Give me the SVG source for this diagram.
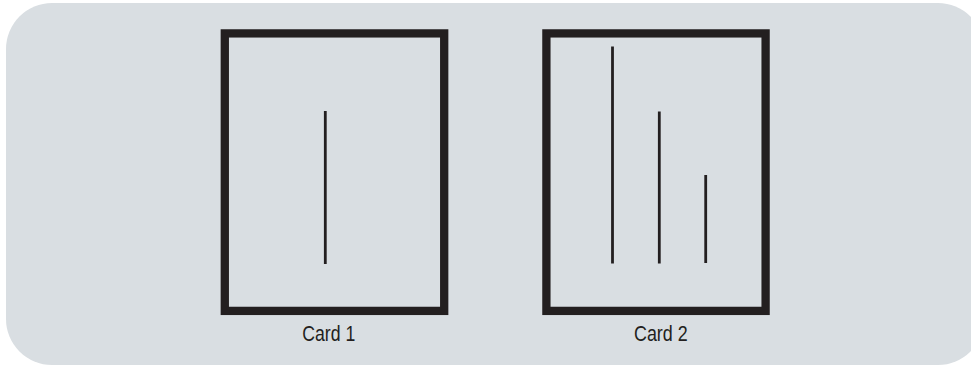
<svg xmlns="http://www.w3.org/2000/svg" width="971" height="366" viewBox="0 0 971 366">
<style>
.bg{fill:#d9dee2}
.frame{fill:none;stroke:#231f20;stroke-width:8.3}
.bar{stroke:#231f20;stroke-width:2.8;fill:none}
.lbl{font-family:"Liberation Sans Narrow","Liberation Sans",Arial,sans-serif;font-size:22px;fill:#231f20}
</style>
<rect class="bg" x="6" y="3" width="978" height="362" rx="46" ry="46"/>
<g id="card1">
<rect class="frame" x="224.8" y="33.4" width="219.4" height="277.5"/>
<line class="bar" x1="325.3" y1="111" x2="325.3" y2="264"/>
<text class="lbl" x="302.3" y="341" textLength="53" lengthAdjust="spacingAndGlyphs">Card 1</text>
</g>
<g id="card2">
<rect class="frame" x="546.4" y="33.4" width="219.2" height="277.5"/>
<line class="bar" x1="612.5" y1="46.5" x2="612.5" y2="263.5"/>
<line class="bar" x1="659.3" y1="111.5" x2="659.3" y2="263.5"/>
<line class="bar" x1="705.7" y1="175" x2="705.7" y2="263"/>
<text class="lbl" x="634" y="341" textLength="53.7" lengthAdjust="spacingAndGlyphs">Card 2</text>
</g>
<g id="connectors"/>
</svg>
